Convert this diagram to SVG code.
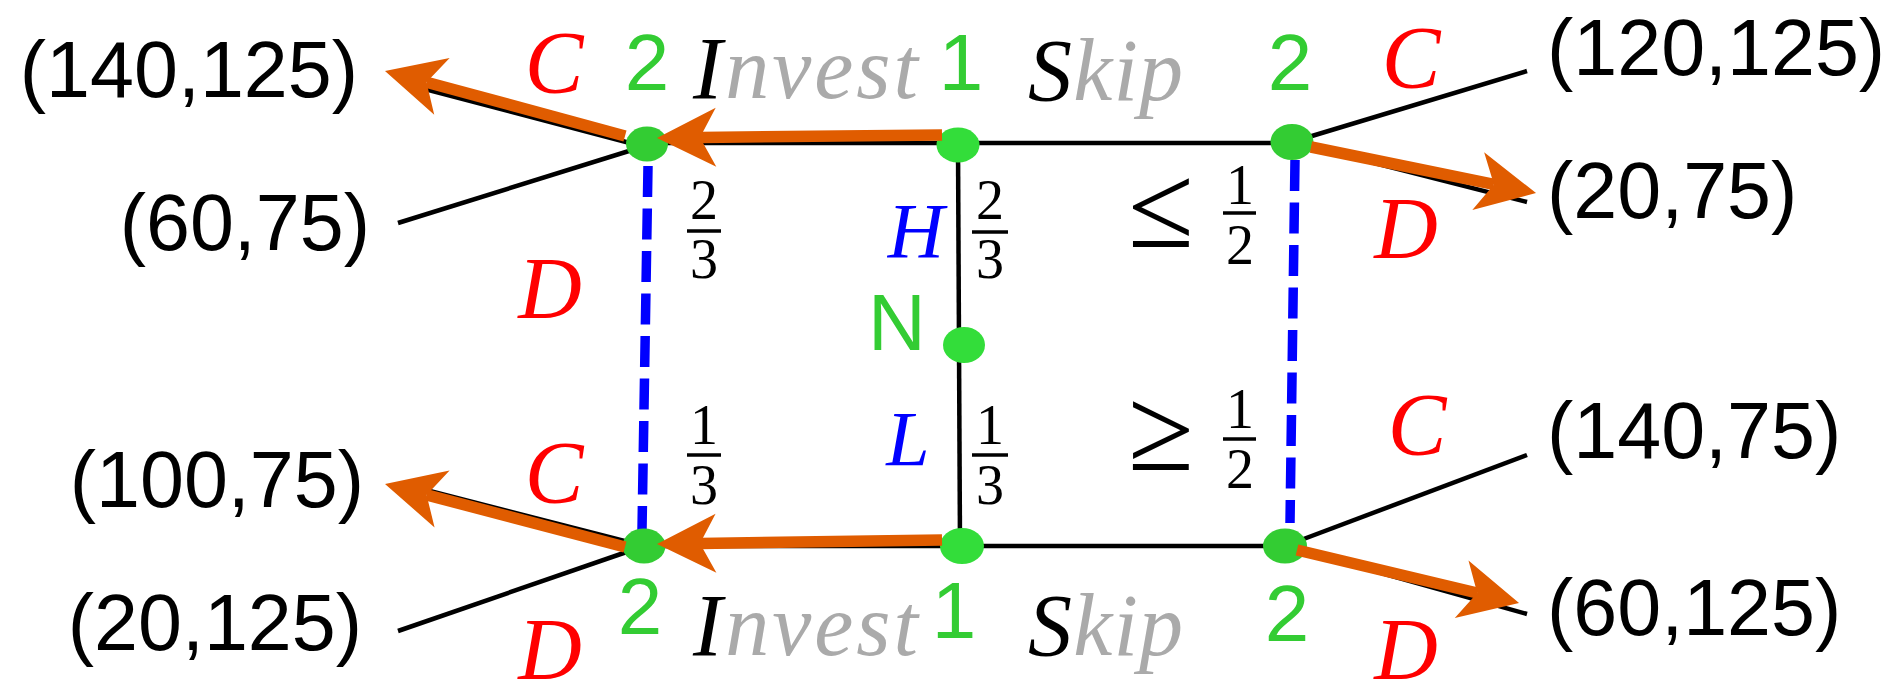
<svg xmlns="http://www.w3.org/2000/svg" width="1895" height="682" viewBox="0 0 1895 682">
<style>
.edge{stroke:#000;stroke-width:4.5;fill:none}
.info{stroke:#0000ff;stroke-width:9.5;fill:none;stroke-dasharray:31 11.5}
.best{stroke:#e05c00;stroke-width:11.5;fill:none;marker-end:url(#ah)}
.n2{fill:#33cc33}
.n1{fill:#33dd3a}
.pl{font-family:"Liberation Sans",Arial,sans-serif;font-size:80px;fill:#33cc33;text-anchor:middle}
.pay{font-family:"Liberation Sans",Arial,sans-serif;font-size:79px;fill:#000}
.act{font-family:"Liberation Serif","Times New Roman",serif;font-style:italic;font-size:88px;fill:#ff0000;text-anchor:middle}
.mv{font-family:"Liberation Serif","Times New Roman",serif;font-style:italic;font-size:88px;fill:#000}
.gr{fill:#aaaaaa}
.typ{font-family:"Liberation Serif","Times New Roman",serif;font-style:italic;font-size:78px;fill:#0000ff;text-anchor:middle}
.fr{font-family:"Liberation Serif","Times New Roman",serif;font-size:56px;fill:#000;text-anchor:middle}
.rel{font-family:"Liberation Serif","DejaVu Serif",serif;font-size:120px;fill:#000;text-anchor:middle}
.bar{stroke:#000;stroke-width:3.5}
</style>
<defs>
<marker id="ah" markerUnits="userSpaceOnUse" markerWidth="120" markerHeight="120" refX="0" refY="0" orient="auto" overflow="visible" viewBox="-60 -60 120 120">
<path d="M43,0 L-16,-29.5 L0,0 L-16,29.5 Z" fill="#e05c00"/>
</marker>
</defs>

<g id="connectors">
<line class="edge" x1="647" y1="143" x2="1292" y2="143"/>
<line class="edge" x1="644" y1="546" x2="1285" y2="546"/>
<line class="edge" x1="958" y1="145" x2="960" y2="546"/>
<line class="edge" x1="645" y1="147" x2="421" y2="88"/>
<line class="edge" x1="645" y1="146" x2="398" y2="223"/>
<line class="edge" x1="1292" y1="142" x2="1527" y2="71"/>
<line class="edge" x1="1292" y1="142" x2="1527" y2="202"/>
<line class="edge" x1="644" y1="546" x2="422" y2="489"/>
<line class="edge" x1="644" y1="546" x2="398" y2="631"/>
<line class="edge" x1="1285" y1="546" x2="1527" y2="455"/>
<line class="edge" x1="1285" y1="546" x2="1527" y2="614"/>
<line class="info" x1="648" y1="166" x2="642" y2="530"/>
<line class="info" x1="1295" y1="160" x2="1290" y2="523"/>
</g>

<g id="node-top-left"><ellipse class="n2" cx="647" cy="144" rx="21" ry="17.5"/></g>
<g id="node-top-mid"><ellipse class="n1" cx="958" cy="145" rx="21.5" ry="17.5"/></g>
<g id="node-top-right"><ellipse class="n2" cx="1292" cy="142" rx="21.5" ry="18"/></g>
<g id="node-nature"><ellipse class="n1" cx="964" cy="345" rx="21" ry="18"/></g>
<g id="node-bot-left"><ellipse class="n2" cx="644" cy="546" rx="21.5" ry="17.5"/></g>
<g id="node-bot-mid"><ellipse class="n1" cx="962" cy="546" rx="22" ry="18"/></g>
<g id="node-bot-right"><ellipse class="n2" cx="1285" cy="546" rx="22" ry="17.5"/></g>

<g id="best-responses">
<line class="best" x1="625" y1="136" x2="426.5" y2="82.2"/>
<line class="best" x1="942" y1="135" x2="700" y2="137.5"/>
<line class="best" x1="1311" y1="147" x2="1493.9" y2="184.4"/>
<line class="best" x1="625" y1="547" x2="426.6" y2="494.9"/>
<line class="best" x1="942" y1="540" x2="700" y2="543.4"/>
<line class="best" x1="1297" y1="550" x2="1477.2" y2="593"/>
</g>

<g id="player-labels">
<text class="pl" x="647" y="90">2</text>
<text class="pl" x="961" y="90">1</text>
<text class="pl" x="1290" y="90">2</text>
<text class="pl" x="897" y="350">N</text>
<text class="pl" x="640" y="634">2</text>
<text class="pl" x="954" y="638">1</text>
<text class="pl" x="1287" y="641">2</text>
</g>

<g id="action-labels">
<text class="act" x="554" y="92">C</text>
<text class="act" x="550" y="318">D</text>
<text class="act" x="1411" y="87">C</text>
<text class="act" x="1406" y="258">D</text>
<text class="act" x="554" y="502">C</text>
<text class="act" x="550" y="679">D</text>
<text class="act" x="1417" y="454">C</text>
<text class="act" x="1406" y="679">D</text>
<text class="mv" x="693" y="98" textLength="225">I<tspan class="gr">nvest</tspan></text>
<text class="mv" x="693" y="655" textLength="225">I<tspan class="gr">nvest</tspan></text>
<text class="mv" x="1028" y="100" textLength="155">S<tspan class="gr">kip</tspan></text>
<text class="mv" x="1028" y="655" textLength="155">S<tspan class="gr">kip</tspan></text>
<text class="typ" x="916" y="257">H</text>
<text class="typ" x="908" y="465">L</text>
</g>

<g id="probabilities">
<text class="fr" x="704" y="219">2</text>
<line class="bar" x1="687" y1="231" x2="721" y2="231"/>
<text class="fr" x="704" y="278">3</text>
<text class="fr" x="990" y="219">2</text>
<line class="bar" x1="972" y1="232" x2="1008" y2="232"/>
<text class="fr" x="990" y="278">3</text>
<text class="rel" x="1161" y="247">≤</text>
<text class="fr" x="1240" y="204">1</text>
<line class="bar" x1="1223" y1="213" x2="1256" y2="213"/>
<text class="fr" x="1240" y="264">2</text>
<text class="fr" x="704" y="444">1</text>
<line class="bar" x1="687" y1="455" x2="721" y2="455"/>
<text class="fr" x="704" y="504">3</text>
<text class="fr" x="990" y="444">1</text>
<line class="bar" x1="972" y1="455" x2="1008" y2="455"/>
<text class="fr" x="990" y="504">3</text>
<text class="rel" x="1161" y="470">≥</text>
<text class="fr" x="1240" y="428">1</text>
<line class="bar" x1="1223" y1="439" x2="1256" y2="439"/>
<text class="fr" x="1240" y="488">2</text>
</g>

<g id="payoffs">
<text class="pay" x="358" y="97" text-anchor="end">(140,125)</text>
<text class="pay" x="370" y="250" text-anchor="end">(60,75)</text>
<text class="pay" x="364" y="507" text-anchor="end">(100,75)</text>
<text class="pay" x="362" y="650" text-anchor="end">(20,125)</text>
<text class="pay" x="1547" y="75">(120,125)</text>
<text class="pay" x="1547" y="218">(20,75)</text>
<text class="pay" x="1547" y="458">(140,75)</text>
<text class="pay" x="1547" y="635">(60,125)</text>
</g>
</svg>
